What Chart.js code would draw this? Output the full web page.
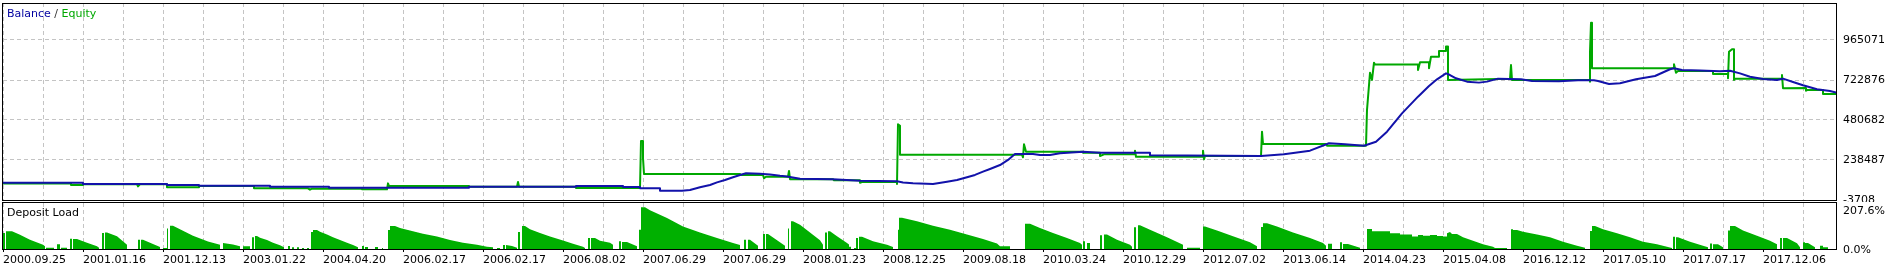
<!DOCTYPE html>
<html>
<head>
<meta charset="utf-8">
<title>Balance / Equity</title>
<script src="https://cdn.jsdelivr.net/npm/chart.js@4.4.1/dist/chart.umd.min.js"></script>
<style>
    html, body { margin: 0; padding: 0; background: #fff; }
    #wrap { position: relative; width: 1892px; height: 269px; overflow: hidden; background: #fff; }
    #mainChart { position: absolute; left: 0; top: 0; width: 1892px; height: 202px; }
    #loadChart { position: absolute; left: 0; top: 202px; width: 1892px; height: 67px; background: #fff; }
</style>
</head>
<body>
<div id="wrap">
    <canvas id="mainChart" width="1892" height="202"></canvas>
    <canvas id="loadChart" width="1892" height="67"></canvas>
</div>
<script>
'use strict';

// x axis is the deal counter, one date label every 80 deals
var dateLabels = [
    '2000.09.25', '2001.01.16', '2001.12.13', '2003.01.22', '2004.04.20', '2006.02.17',
    '2006.02.17', '2006.08.02', '2007.06.29', '2007.06.29', '2008.01.23', '2008.12.25',
    '2009.08.18', '2010.03.24', '2010.12.29', '2012.07.02', '2013.06.14', '2014.04.23',
    '2015.04.08', '2016.12.12', '2017.05.10', '2017.07.17', '2017.12.06'
];
var dealsPerLabel = 80;
var dealsPerGrid = 40;
var lastDeal = 1834;

var balanceTicks = [-3708, 238487, 480682, 722876, 965071];
var balanceMin = -3708;
var balanceMax = 1189101;

// [deal, value]
var balance = [
    [0,100000],[80,100000],[80,93000],[164,93000],[164,87000],[196,87000],[196,83000],[267,83000],
    [267,77000],[326,77000],[326,71000],[466,71000],[466,77000],[573,77000],[573,81000],[620,81000],
    [620,75000],[637,75000],[637,67000],[657,67000],[657,53000],[679,53000],[687,57000],[697,73000],
    [707,87000],[714,103000],[722,117000],[730,134000],[737,148000],[743,158000],[757,155000],[767,151000],
    [777,143000],[784,139000],[797,125000],[830,122000],[857,113000],[894,110000],[900,102000],[910,97000],
    [930,93000],[944,107000],[954,117000],[964,134000],[972,148000],[980,168000],[987,184000],[997,208000],
    [1005,239000],[1012,275000],[1030,275000],[1037,269000],[1047,269000],[1057,279000],[1080,289000],[1097,283000],
    [1147,283000],[1147,267000],[1258,263000],[1281,273000],[1307,295000],[1326,340000],[1342,334000],[1361,325000],
    [1373,349000],[1384,410000],[1399,521000],[1415,622000],[1426,687000],[1434,727000],[1443,763000],[1447,753000],
    [1453,733000],[1464,713000],[1476,707000],[1484,713000],[1495,731000],[1518,727000],[1529,717000],[1556,715000],
    [1575,721000],[1591,721000],[1595,717000],[1606,699000],[1617,703000],[1633,727000],[1652,747000],[1667,788000],
    [1671,794000],[1679,783000],[1697,781000],[1717,776000],[1727,779000],[1737,763000],[1747,743000],[1760,729000],
    [1774,723000],[1780,731000],[1790,711000],[1800,691000],[1814,667000],[1827,656000],[1834,646000]
];

var equity = [
    [0,96000],[68,96000],[68,87000],[80,87000],[80,91000],[134,91000],[135,79000],[137,91000],
    [164,91000],[164,73000],[196,73000],[196,81000],[251,81000],[251,67000],[305,67000],[307,59000],
    [309,65000],[359,65000],[359,61000],[384,61000],[385,97000],[386,81000],[466,81000],[466,77000],
    [514,77000],[515,105000],[516,77000],[573,77000],[573,69000],[637,69000],[638,353000],[640,353000],
    [640,250000],[641,154000],[737,154000],[738,148000],[760,148000],[761,128000],[763,137000],[785,137000],
    [786,172000],[787,122000],[830,122000],[831,116000],[857,116000],[857,101000],[859,105000],[894,105000],
    [894,93000],[895,455000],[897,446000],[897,271000],[1019,271000],[1020,255000],[1021,334000],[1023,289000],
    [1080,289000],[1080,283000],[1097,283000],[1097,263000],[1101,273000],[1132,273000],[1132,295000],[1133,258000],
    [1200,258000],[1200,295000],[1201,243000],[1202,263000],[1258,263000],[1259,410000],[1260,335000],[1323,335000],
    [1324,325000],[1363,325000],[1364,541000],[1367,767000],[1369,723000],[1371,828000],[1372,816000],[1415,816000],
    [1415,783000],[1417,830000],[1426,830000],[1426,794000],[1428,864000],[1436,864000],[1436,898000],[1443,898000],
    [1443,925000],[1445,925000],[1445,723000],[1495,729000],[1507,729000],[1508,814000],[1509,723000],[1587,723000],
    [1587,713000],[1587,894000],[1588,1070000],[1589,1070000],[1589,794000],[1671,794000],[1671,818000],[1673,767000],
    [1675,777000],[1710,777000],[1710,759000],[1725,759000],[1725,733000],[1726,894000],[1729,909000],[1731,909000],
    [1731,723000],[1732,731000],[1779,731000],[1779,753000],[1780,673000],[1803,674000],[1803,658000],[1804,662000],
    [1820,662000],[1820,638000],[1834,638000]
];

// deposit load in %, one block per run of open positions: [deal, load]
var loadMax = 207.6;
var loadTicks = [0, 207.6];
var loadBlocks = [
    [[0,72],[2,72]],
    [[3,80],[9,80],[17,64],[27,42],[40,19],[42,12]],
    [[43,6],[51,6]],
    [[54,22],[57,22]],
    [[58,6],[64,6]],
    [[67,46],[69,46]],
    [[70,45],[74,45],[84,28],[94,12],[96,6]],
    [[99,72],[101,72]],
    [[102,75],[104,75],[114,57],[124,19]],
    [[135,42],[137,42]],
    [[138,42],[140,42],[157,9]],
    [[160,4],[164,4]],
    [[164,92],[165,92]],
    [[167,105],[170,105],[180,82],[190,60],[205,34],[217,19]],
    [[220,27],[230,20],[237,12]],
    [[240,12],[247,12]],
    [[249,53],[251,53]],
    [[252,59],[254,59],[257,51],[264,41],[270,28],[277,17],[281,8]],
    [[285,13],[287,13]],
    [[289,8],[291,8]],
    [[294,8],[296,8]],
    [[299,4],[301,4]],
    [[304,5],[306,5]],
    [[308,77],[310,77]],
    [[310,86],[314,86],[317,78],[324,66],[330,53],[337,41],[344,28],[350,18],[355,8]],
    [[359,14],[361,14]],
    [[362,9],[365,9]],
    [[372,9],[375,9]],
    [[379,4],[380,4]],
    [[385,86],[387,86]],
    [[387,104],[392,104],[397,95],[407,83],[420,69],[434,56],[447,41],[460,28],[474,19],[484,10],[490,8]],
    [[494,4],[497,4]],
    [[500,18],[502,18]],
    [[503,18],[509,14],[514,6]],
    [[515,77],[517,77]],
    [[519,104],[522,104],[527,89],[537,72],[547,56],[560,38],[570,24],[580,10],[582,5]],
    [[585,50],[587,50]],
    [[588,50],[592,50],[597,37],[607,28],[610,19]],
    [[616,35],[618,35]],
    [[619,32],[624,32],[634,12]],
    [[636,87],[638,87]],
    [[638,188],[642,188],[647,175],[664,140],[680,102],[697,75],[714,50],[730,27],[737,18]],
    [[741,42],[743,42]],
    [[745,42],[747,42],[755,15]],
    [[760,68],[762,68]],
    [[763,68],[765,68],[782,15]],
    [[785,92],[786,92]],
    [[788,125],[790,125],[797,110],[807,75],[817,39],[820,19]],
    [[822,75],[824,75]],
    [[825,80],[827,80],[834,57],[844,27],[846,20]],
    [[846,10],[848,10]],
    [[851,5],[853,5]],
    [[853,50],[855,50]],
    [[856,55],[859,55],[870,35],[884,19],[890,9]],
    [[895,87],[896,87]],
    [[896,141],[899,141],[914,125],[930,105],[947,87],[964,66],[980,45],[994,25],[997,12],[1007,12]],
    [[1022,114],[1027,114],[1037,95],[1050,72],[1064,50],[1077,27],[1079,19]],
    [[1080,35],[1082,35]],
    [[1084,27],[1087,27]],
    [[1097,62],[1099,62]],
    [[1101,65],[1104,65],[1114,42],[1127,19],[1129,10]],
    [[1131,98],[1133,98]],
    [[1135,107],[1137,107],[1147,87],[1164,53],[1180,19]],
    [[1184,6],[1197,6]],
    [[1200,101],[1202,101],[1214,84],[1230,57],[1247,30],[1254,12]],
    [[1258,99],[1260,99]],
    [[1260,116],[1264,116],[1274,102],[1290,75],[1307,50],[1320,27],[1323,15]],
    [[1325,24],[1329,24]],
    [[1337,30],[1339,30]],
    [[1340,23],[1345,23],[1357,6]],
    [[1364,90],[1369,90],[1369,80],[1387,80],[1387,71],[1397,71],[1397,65],[1409,65],[1409,56],[1415,56],
     [1415,63],[1420,63],[1420,60],[1427,60],[1427,63],[1434,63],[1434,59],[1440,59],[1440,56],[1444,56],
     [1444,71],[1447,77],[1449,68],[1454,68],[1460,53],[1470,37],[1480,21],[1490,10],[1492,5],[1504,5]],
    [[1508,89],[1510,89],[1510,86],[1514,86],[1520,78],[1534,66],[1547,53],[1560,33],[1574,15],[1582,6]],
    [[1587,81],[1589,81],[1589,104],[1592,104],[1600,89],[1614,71],[1627,53],[1640,33],[1654,21],[1664,10],[1669,4]],
    [[1670,55],[1672,55]],
    [[1673,53],[1675,53],[1687,33],[1700,15],[1705,8]],
    [[1707,25],[1709,25]],
    [[1710,22],[1715,22],[1720,8]],
    [[1725,83],[1727,83],[1727,104],[1732,104],[1740,83],[1754,60],[1767,37],[1774,22]],
    [[1777,50],[1779,50]],
    [[1780,50],[1784,50],[1794,26],[1797,8]],
    [[1800,30],[1802,30],[1802,27],[1805,27],[1812,8]],
    [[1817,15],[1820,15],[1820,8],[1825,8]]
];

var BLUE = '#1212aa';
var GREEN = '#00a800';
var LOAD_GREEN = '#00b000';
var GRID = '#c4c4c4';
var FONT_FAMILY = '"DejaVu Sans", Verdana, sans-serif';
var FONT = '11px ' + FONT_FAMILY;

function toPoints(list) {
    return list.map(function (p) { return {x: p[0], y: p[1]}; });
}

function loadPoints() {
    var pts = [];
    loadBlocks.forEach(function (block) {
        pts.push({x: block[0][0], y: 0});
        block.forEach(function (p) { pts.push({x: p[0], y: p[1]}); });
        pts.push({x: block[block.length - 1][0], y: 0});
    });
    return pts;
}

function gridTicks(scale) {
    var ticks = [];
    for (var v = 0; v <= lastDeal; v += dealsPerGrid) {
        ticks.push({value: v});
    }
    scale.ticks = ticks;
}

// keep the plot box where MT5 puts it, labels may hang outside
function noPadding(s) {
    s.paddingTop = 0;
    s.paddingBottom = 0;
    s.paddingLeft = 0;
    s.paddingRight = 0;
}

function framePlugin(topShift, grow) {
    return {
        id: 'frame',
        afterDraw: function (chart) {
            var a = chart.chartArea;
            var ctx = chart.ctx;
            ctx.save();
            ctx.strokeStyle = '#000';
            ctx.lineWidth = 1;
            ctx.strokeRect(a.left - 0.5, a.top + topShift, a.right - a.left, a.bottom - a.top + grow);
            ctx.restore();
        }
    };
}

var titlePlugin = {
    id: 'title',
    afterDraw: function (chart) {
        var ctx = chart.ctx;
        var x = 7;
        var parts = [['Balance', '#0000a0'], [' / ', '#303030'], ['Equity', GREEN]];
        ctx.save();
        ctx.font = FONT;
        ctx.textBaseline = 'middle';
        ctx.textAlign = 'left';
        parts.forEach(function (p) {
            ctx.fillStyle = p[1];
            ctx.fillText(p[0], x, 14);
            x += ctx.measureText(p[0]).width;
        });
        ctx.restore();
    }
};

var loadTextPlugin = {
    id: 'loadText',
    afterDraw: function (chart) {
        var ctx = chart.ctx;
        var a = chart.chartArea;
        var y = chart.scales.y;
        ctx.save();
        ctx.font = FONT;
        ctx.fillStyle = '#000';
        ctx.textAlign = 'left';
        ctx.textBaseline = 'middle';
        ctx.fillText('Deposit Load', 7, 11);
        loadTicks.forEach(function (v) {
            var py = y.getPixelForValue(v);
            if (v === loadMax) {
                ctx.textBaseline = 'top';
                ctx.fillText(v.toFixed(1) + '%', a.right + 6, py + 3);
            } else {
                ctx.textBaseline = 'middle';
                ctx.fillText(v.toFixed(1) + '%', a.right + 6, py + 1);
            }
        });
        ctx.restore();
    }
};

new Chart(document.getElementById('mainChart'), {
    type: 'line',
    data: {
        datasets: [
            {label: 'Balance', data: toPoints(balance), borderColor: BLUE, borderWidth: 2},
            {label: 'Equity', data: toPoints(equity), borderColor: GREEN, borderWidth: 2}
        ]
    },
    options: {
        responsive: false,
        animation: false,
        events: [],
        layout: {padding: {left: 3, top: 3, right: 0, bottom: 2}},
        elements: {
            point: {radius: 0},
            line: {tension: 0, borderJoinStyle: 'round', borderCapStyle: 'butt'}
        },
        plugins: {legend: {display: false}, tooltip: {enabled: false}},
        scales: {
            x: {
                type: 'linear',
                min: 0,
                max: lastDeal,
                afterBuildTicks: gridTicks,
                afterFit: function (s) { s.height = 0; noPadding(s); },
                ticks: {display: false},
                grid: {color: GRID, drawTicks: false},
                border: {display: false, dash: [4, 3]}
            },
            y: {
                position: 'right',
                min: balanceMin,
                max: balanceMax,
                afterBuildTicks: function (s) {
                    s.ticks = balanceTicks.map(function (v) { return {value: v}; });
                },
                afterFit: function (s) { s.width = 55; noPadding(s); },
                ticks: {
                    color: '#000',
                    font: {family: FONT_FAMILY, size: 11},
                    padding: 6,
                    callback: function (v) { return String(v); }
                },
                grid: {color: GRID, drawTicks: false},
                border: {display: false, dash: [4, 3]}
            }
        }
    },
    plugins: [framePlugin(0.5, 0), titlePlugin]
});

new Chart(document.getElementById('loadChart'), {
    type: 'line',
    data: {
        datasets: [{
            label: 'Deposit Load',
            data: loadPoints(),
            borderWidth: 0,
            backgroundColor: LOAD_GREEN,
            fill: 'origin',
            pointRadius: 0,
            tension: 0
        }]
    },
    options: {
        responsive: false,
        animation: false,
        events: [],
        layout: {padding: {left: 3, top: 1, right: 55, bottom: 0}},
        plugins: {legend: {display: false}, tooltip: {enabled: false}},
        scales: {
            x: {
                type: 'linear',
                min: 0,
                max: lastDeal,
                afterBuildTicks: gridTicks,
                afterFit: function (s) { s.height = 20; noPadding(s); },
                ticks: {
                    autoSkip: false,
                    maxRotation: 0,
                    minRotation: 0,
                    align: 'start',
                    padding: 2,
                    color: '#000',
                    font: {family: FONT_FAMILY, size: 11},
                    callback: function (v) {
                        return v % dealsPerLabel === 0 ? dateLabels[v / dealsPerLabel] : '';
                    }
                },
                grid: {
                    color: GRID,
                    tickLength: 3,
                    tickWidth: 1,
                    tickBorderDash: [],
                    tickColor: function (ctx) {
                        return ctx.tick && ctx.tick.value % dealsPerLabel === 0 ? '#000' : 'rgba(0,0,0,0)';
                    }
                },
                border: {display: false, dash: [4, 3]}
            },
            y: {display: false, min: 0, max: loadMax}
        }
    },
    plugins: [framePlugin(-0.5, 1), loadTextPlugin]
});
</script>
</body>
</html>
